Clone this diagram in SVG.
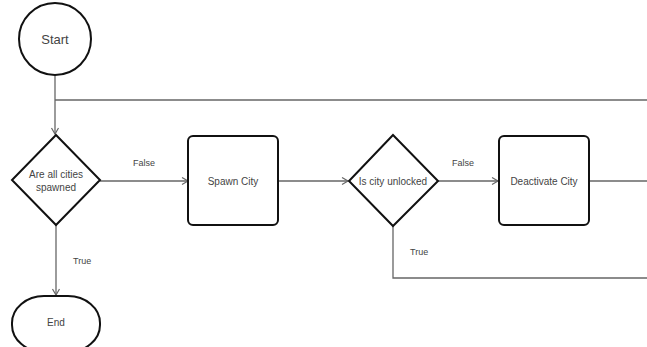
<svg xmlns="http://www.w3.org/2000/svg" width="647" height="347" viewBox="0 0 647 347">
<style>
.node{fill:#fff;stroke:#111;stroke-width:2}
.conn{fill:none;stroke:#666;stroke-width:1.3}
.t{font-family:"Liberation Sans",Arial,sans-serif;fill:#444;text-anchor:middle}
.lbl{font-family:"Liberation Sans",Arial,sans-serif;fill:#444;font-size:9px}
</style>
<defs>
<marker id="arr" markerWidth="10" markerHeight="10" refX="7" refY="4" orient="auto" markerUnits="userSpaceOnUse">
<path d="M1,0.5 L7,4 L1,7.5" fill="none" stroke="#666" stroke-width="1.2"/>
</marker>
</defs>
<rect width="647" height="347" fill="#fff"/>
<g id="connectors">
<path class="conn" d="M55,75 L55,134" marker-end="url(#arr)"/>
<path class="conn" d="M55,100 L647,100"/>
<path class="conn" d="M100,181 L188,181" marker-end="url(#arr)"/>
<path class="conn" d="M278,181 L348,181" marker-end="url(#arr)"/>
<path class="conn" d="M438,181 L498,181" marker-end="url(#arr)"/>
<path class="conn" d="M589,181 L647,181"/>
<path class="conn" d="M393,226 L393,278 L647,278"/>
<path class="conn" d="M56,225 L56,295" marker-end="url(#arr)"/>
<text class="lbl" x="133" y="166">False</text>
<text class="lbl" x="452" y="166">False</text>
<text class="lbl" x="73" y="264">True</text>
<text class="lbl" x="410" y="255">True</text>
</g>
<g id="start">
<circle class="node" cx="55" cy="39" r="36"/>
<text class="t" x="55" y="44" font-size="13">Start</text>
</g>
<g id="allSpawned">
<polygon class="node" points="56,135 100,180 56,225 12,180"/>
<text class="t" x="56" y="178" font-size="10">Are all cities</text>
<text class="t" x="56" y="191" font-size="10">spawned</text>
</g>
<g id="spawnCity">
<rect class="node" x="188" y="136" width="90" height="89" rx="5"/>
<text class="t" x="233" y="185" font-size="10">Spawn City</text>
</g>
<g id="unlocked">
<polygon class="node" points="393,135 438,181 393,226 349,181"/>
<text class="t" x="393" y="185" font-size="10">Is city unlocked</text>
</g>
<g id="deactivate">
<rect class="node" x="499" y="136" width="90" height="89" rx="5"/>
<text class="t" x="544" y="185" font-size="10">Deactivate City</text>
</g>
<g id="end">
<rect class="node" x="12" y="296" width="88" height="56" rx="32" ry="27"/>
<text class="t" x="56" y="326" font-size="10">End</text>
</g>
</svg>
